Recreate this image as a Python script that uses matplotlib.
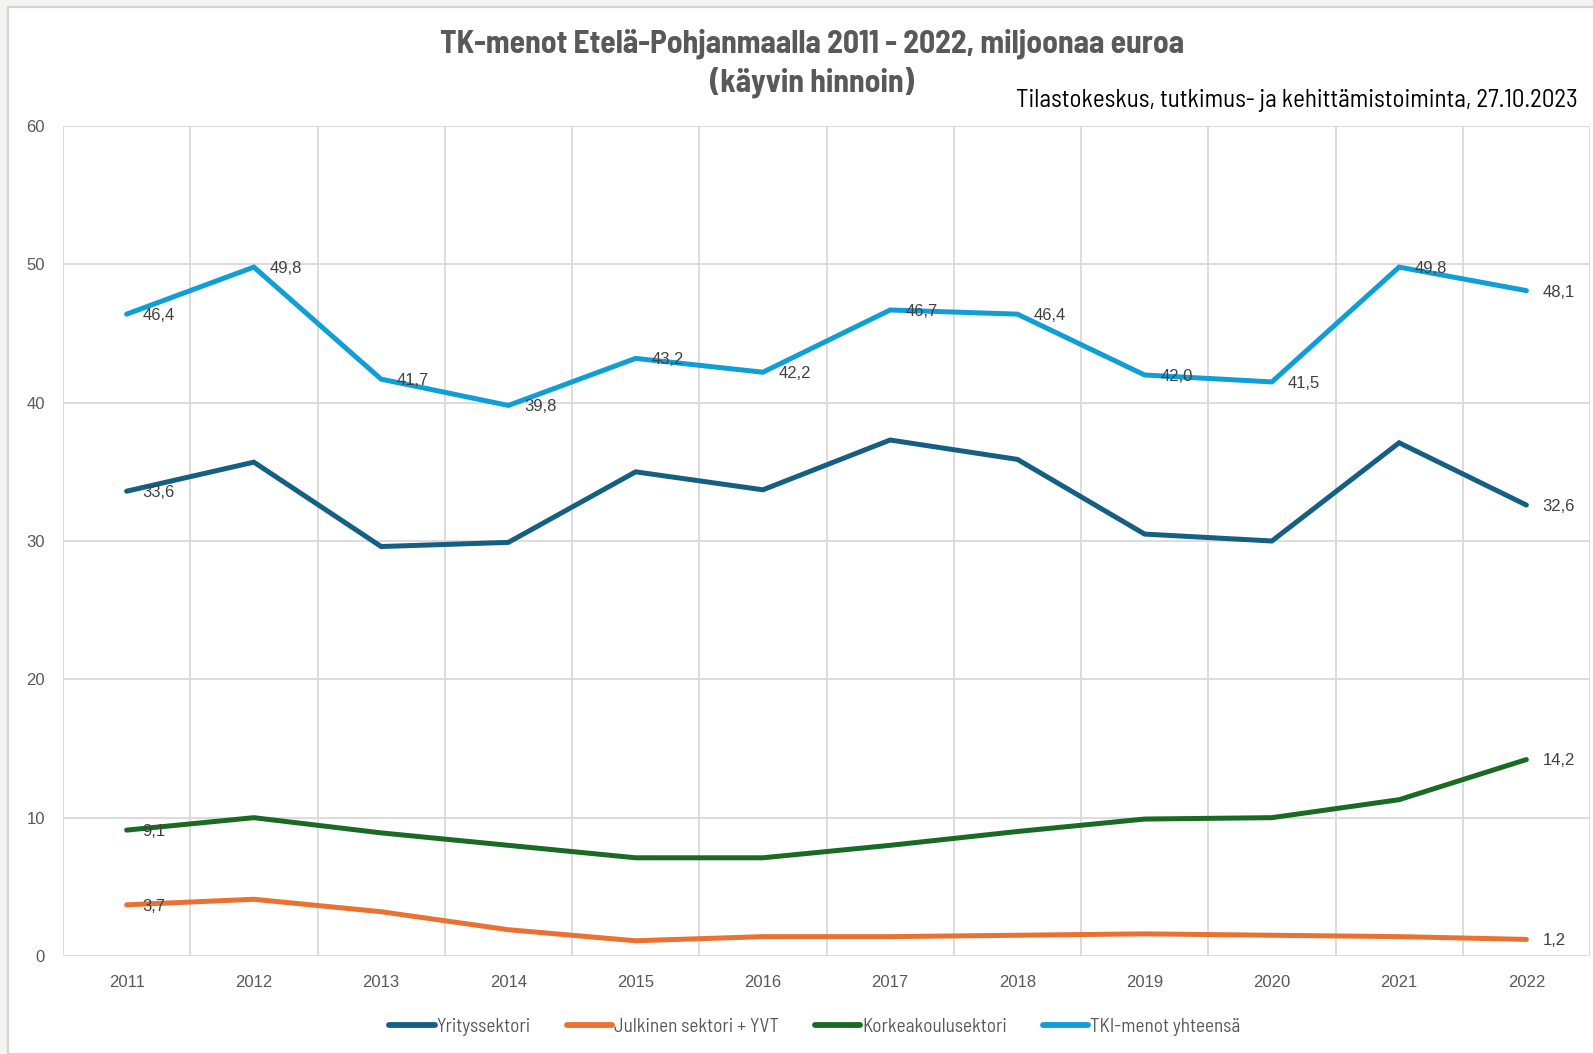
import matplotlib
matplotlib.use("Agg")
import matplotlib.pyplot as plt
from matplotlib.patches import Rectangle

# vuodet ja sarjat (miljoonaa euroa)
vuodet = ["2011", "2012", "2013", "2014", "2015", "2016",
          "2017", "2018", "2019", "2020", "2021", "2022"]
yritys = [33.6, 35.7, 29.6, 29.9, 35.0, 33.7, 37.3, 35.9, 30.5, 30.0, 37.1, 32.6]
julkinen = [3.7, 4.1, 3.2, 1.9, 1.1, 1.4, 1.4, 1.5, 1.6, 1.5, 1.4, 1.2]
korkeakoulu = [9.1, 10.0, 8.9, 8.0, 7.1, 7.1, 8.0, 9.0, 9.9, 10.0, 11.3, 14.2]
yhteensa = [46.4, 49.8, 41.7, 39.8, 43.2, 42.2, 46.7, 46.4, 42.0, 41.5, 49.8, 48.1]

sarjat = [
    ("Yrityssektori", yritys, "#156082", [0, 11]),
    ("Julkinen sektori + YVT", julkinen, "#E97132", [0, 11]),
    ("Korkeakoulusektori", korkeakoulu, "#196B24", [0, 11]),
    ("TKI-menot yhteensä", yhteensa, "#0F9ED5", list(range(12))),
]

# kapea fontti otsikoille, varalla tavallinen
kapea = ["Barlow Semi Condensed", "Barlow Condensed", "Liberation Sans Narrow", "Liberation Sans"]
tavallinen = ["Liberation Sans", "DejaVu Sans"]

W, H = 1593, 1054
fig = plt.figure(figsize=(W / 100, H / 100), dpi=100, facecolor="#f4f3f1")

# valkoinen kaaviopohja
fig.patches.append(Rectangle((8 / W, 0), 1.0, (H - 7) / H, transform=fig.transFigure,
                             facecolor="white", edgecolor="#d4d4d4", linewidth=1.6, zorder=-1))

vasen, oikea, yla, ala = 63, 1590, 126, 956
ax = fig.add_axes([vasen / W, (H - ala) / H, (oikea - vasen) / W, (ala - yla) / H])
ax.set_facecolor("none")

x = list(range(len(vuodet)))
for nimi, arvot, vari, merkit in sarjat:
    ax.plot(x, arvot, color=vari, linewidth=3.6, solid_capstyle="round",
            solid_joinstyle="miter", label=nimi, zorder=3)
    for i in merkit:
        ax.annotate(f"{arvot[i]:.1f}".replace(".", ","), (x[i], arvot[i]),
                    xytext=(11.5, -1), textcoords="offset points",
                    ha="left", va="center", fontsize=12, color="#404040",
                    family=tavallinen, zorder=4)

ax.set_xlim(-0.5, 11.5)
ax.set_ylim(0, 60)
ax.set_yticks(range(0, 61, 10))
ax.set_xticks(x)
ax.set_xticklabels(vuodet)
for v in [i - 0.5 for i in range(13)]:
    ax.axvline(v, color="#d9d9d9", linewidth=1.3, zorder=1)
for h in range(0, 61, 10):
    ax.axhline(h, color="#d9d9d9", linewidth=1.3, zorder=1)
for s in ax.spines.values():
    s.set_visible(False)
ax.tick_params(length=0, labelsize=12, labelcolor="#595959")
ax.tick_params(axis="y", pad=13)
ax.tick_params(axis="x", pad=14)
for t in ax.get_xticklabels() + ax.get_yticklabels():
    t.set_family(tavallinen)

fig.text(812 / W, 1 - 44 / H, "TK-menot Etelä-Pohjanmaalla 2011 - 2022, miljoonaa euroa",
         ha="center", va="center", fontsize=22.7, fontweight="bold", color="#595959", family=kapea)
fig.text(812 / W, 1 - 82 / H, "(käyvin hinnoin)",
         ha="center", va="center", fontsize=22.7, fontweight="bold", color="#595959", family=kapea)
fig.text(1578 / W, 1 - 101 / H, "Tilastokeskus, tutkimus- ja kehittämistoiminta, 27.10.2023",
         ha="right", va="center", fontsize=18, color="#000000", family=kapea)

leg = fig.legend(loc="center", bbox_to_anchor=(815 / W, 27 / H), ncol=4, frameon=False,
                 handlelength=2.35, handletextpad=0.1, columnspacing=1.9,
                 prop={"family": kapea, "size": 13.8}, labelcolor="#595959")
for h in leg.legend_handles:
    h.set_linewidth(4.2)

fig.savefig("out.png", dpi=100, facecolor=fig.get_facecolor())
